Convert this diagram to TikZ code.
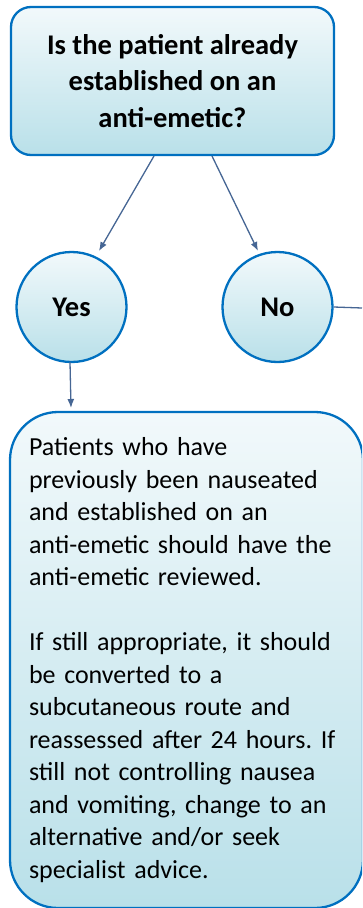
\documentclass[tikz,border=0pt]{standalone}
\usepackage{fontspec}
\setmainfont{Carlito}
\frenchspacing
\usetikzlibrary{arrows.meta}
\definecolor{bordercol}{RGB}{0,112,192}
\definecolor{topfill}{RGB}{242,249,251}
\definecolor{botfill}{RGB}{185,224,233}
\definecolor{arrowcol}{RGB}{70,102,148}
\tikzset{
  shadedbox/.style={draw=bordercol, line width=2.3pt, top color=topfill, bottom color=botfill},
  qbox/.style={shadedbox, rounded corners=20pt, minimum width=323pt, minimum height=148pt, inner sep=0pt, align=center, font=\fontsize{28.5}{36.5}\selectfont\bfseries},
  ansbox/.style={shadedbox, circle, minimum size=110pt, inner sep=0pt, font=\fontsize{28.5}{32}\selectfont\bfseries},
  infobox/.style={shadedbox, rounded corners=48pt, minimum width=353pt, minimum height=496pt, inner sep=0pt, text width=315pt, align=left, font=\fontsize{26}{32.5}\selectfont},
  conn/.style={draw=arrowcol, line width=1.3pt, -{Latex[length=9pt,width=7pt]}},
  plainconn/.style={draw=arrowcol, line width=1.3pt},
}
\begin{document}
\begin{tikzpicture}[x=1pt,y=1pt]
\useasboundingbox (0,0) rectangle (362,-908);
\clip (0,0) rectangle (362,-908);
\node[qbox] (q) at (172.5,-81) {Is the patient already\\established on an\\anti-emetic?};
\node[ansbox] (yes) at (71.5,-307) {Yes};
\node[ansbox] (no) at (277.5,-307) {No};
\node[infobox] (info) at (186.5,-660) {Patients who have\\previously been nauseated\\and established on an\\anti-emetic should have the\\anti-emetic reviewed.\\[32.5pt]If still appropriate, it should\\be converted to a\\subcutaneous route and\\reassessed after 24 hours. If\\still not controlling nausea\\and vomiting, change to an\\alternative and/or seek\\specialist advice.};
\coordinate (qL) at (154,-156);
\coordinate (qR) at (212,-156);
\coordinate (yesT) at (99,-251);
\coordinate (noT) at (258,-251);
\coordinate (yesB) at (70,-362);
\coordinate (infoT) at (71,-408);
\coordinate (noEnd) at (362,-308);
\draw[conn] (qL) -- (yesT);
\draw[conn] (qR) -- (noT);
\draw[conn] (yesB) -- (infoT);
\draw[plainconn] (no.east) -- (noEnd);
\end{tikzpicture}
\end{document}
